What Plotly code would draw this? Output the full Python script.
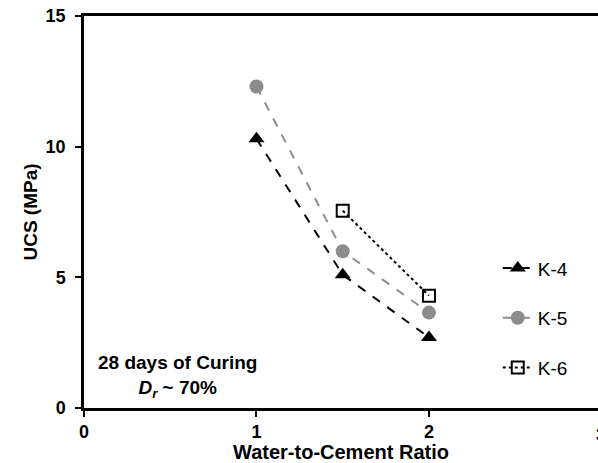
import plotly.graph_objects as go

# Water-to-cement ratio and unconfined compressive strength (MPa), 28-day cure
wc_ratio = [1.0, 1.5, 2.0]
ucs_k4 = [10.3, 5.1, 2.7]
ucs_k5 = [12.3, 6.0, 3.65]
ucs_k6 = [None, 7.55, 4.3]

x_ticks = [0, 1, 2, 3]
y_ticks = [0, 5, 10, 15]

FONT = "Arial, Liberation Sans, sans-serif"
X_MAX = 2.98

fig = go.Figure()

fig.add_trace(go.Scatter(
    x=wc_ratio, y=ucs_k4, name="K-4", mode="lines+markers",
    line=dict(color="black", width=2, dash="dash"),
    marker=dict(symbol="triangle-up", size=14, color="black"),
    legendgroup="a",
))
fig.add_trace(go.Scatter(
    x=wc_ratio, y=ucs_k5, name="K-5", mode="lines+markers",
    line=dict(color="#8c8c8c", width=2, dash="dash"),
    marker=dict(symbol="circle", size=14, color="#8c8c8c"),
    legendgroup="b",
))
fig.add_trace(go.Scatter(
    x=wc_ratio, y=ucs_k6, name="K-6", mode="lines+markers",
    line=dict(color="black", width=2, dash="dot"),
    marker=dict(symbol="square-open", size=12, color="black",
                line=dict(width=2, color="black")),
    legendgroup="c",
))

fig.update_layout(
    width=598, height=463,
    margin=dict(l=84, r=0, t=16, b=55),
    paper_bgcolor="white", plot_bgcolor="white",
    font=dict(family=FONT, size=18, color="black"),
    showlegend=True,
    legend=dict(
        x=0.805, y=0.405, xanchor="left", yanchor="top",
        traceorder="grouped", tracegroupgap=22,
        font=dict(family=FONT, size=19, color="black"),
        bgcolor="rgba(0,0,0,0)",
    ),
    xaxis=dict(
        range=[0, X_MAX], tickvals=x_ticks,
        ticktext=[f"<b>{v}</b>" for v in x_ticks],
        showline=True, linecolor="black", linewidth=2.5, mirror=True,
        ticks="outside", ticklen=6, tickwidth=2, tickcolor="black",
        showgrid=False, zeroline=False,
        tickfont=dict(family=FONT, size=18, color="black"),
        title=dict(text="<b>Water-to-Cement Ratio</b>", standoff=4,
                   font=dict(family=FONT, size=20, color="black")),
    ),
    yaxis=dict(
        range=[0, 15], tickvals=y_ticks,
        ticktext=[f"<b>{v}</b>" for v in y_ticks],
        showline=True, linecolor="black", linewidth=2.5,
        ticks="outside", ticklen=6, tickwidth=2, tickcolor="black",
        ticklabelstandoff=6,
        showgrid=False, zeroline=False,
        tickfont=dict(family=FONT, size=18, color="black"),
        title=dict(text="<b>UCS (MPa)</b>", standoff=3,
                   font=dict(family=FONT, size=19, color="black")),
    ),
)

# last x tick label sits at the right edge of the page
fig.add_annotation(
    xref="paper", yref="paper", x=3 / X_MAX, y=-0.038,
    xanchor="center", yanchor="top", showarrow=False,
    text="<b>3</b>", font=dict(family=FONT, size=18, color="black"),
)

fig.add_annotation(
    xref="paper", yref="paper", x=0.181, y=0.08,
    xanchor="center", yanchor="middle",
    text="<b>28 days of Curing</b><br><b><i>D<sub>r</sub></i> ~ 70%</b>",
    showarrow=False, align="center",
    font=dict(family=FONT, size=19, color="black"),
)

fig.write_html("out.html")
